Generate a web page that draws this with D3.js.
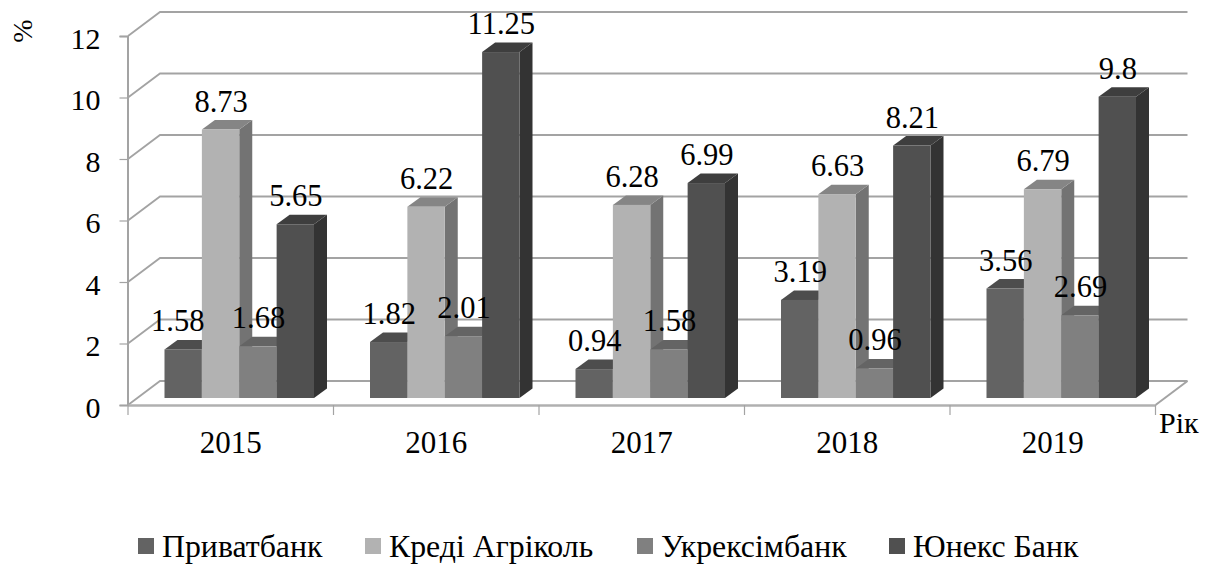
<!DOCTYPE html>
<html><head><meta charset="utf-8">
<script src="https://cdn.jsdelivr.net/npm/d3@7"></script>
<style>
html,body{margin:0;padding:0;background:#fff;overflow:hidden}
svg text{fill:#000}
</style></head><body><svg id="c" width="1212" height="566"></svg>
<script>
const years = ["2015","2016","2017","2018","2019"];
const seriesNames = ["Приватбанк","Креді Агріколь","Укрексімбанк","Юнекс Банк"];
const privat = [1.58,1.82,0.94,3.19,3.56];
const credit = [8.73,6.22,6.28,6.63,6.79];
const ukrexim = [1.68,2.01,1.58,0.96,2.69];
const unex = [5.65,11.25,6.99,8.21,9.8];
const yTicks = [0,2,4,6,8,10,12];
const seriesValues = [privat,credit,ukrexim,unex];
const frontColors = ["#636363","#b2b2b2","#808080","#505050"];
const topColors = ["#4d4d4d","#858585","#646464","#3e3e3e"];
const sideColors = ["#484848","#737373","#5c5c5c","#333333"];
const swatchX = [138,365,637,889];

const svg = d3.select("#c");
const grid = "#a3a3a3";
const y = d3.scaleLinear().domain([0,12]).range([405,36]);
const x0 = d3.scaleBand().domain(years).range([128,1155.5]);
const x1 = d3.scaleBand().domain(seriesNames).range([36.5,186]);
const wallDx = 32, wallDy = 24, barDx = 13, barDy = 9.5, floorLift = 7;

// walls
const wall = svg.append("g").attr("fill","none").attr("stroke",grid).attr("stroke-width",2);
yTicks.forEach(t=>{
  wall.append("path").attr("stroke-width", 1.8)
    .attr("d",`M${x0.range()[0]},${y(t)}L${x0.range()[0]+wallDx},${y(t)-wallDy}H${x0.range()[1]+wallDx}`);
});
wall.append("path").attr("d",`M${x0.range()[1]},${y(0)}L${x0.range()[1]+wallDx},${y(0)-wallDy}`);

// axes
const axL = svg.append("g").attr("transform","translate(127.5,0)")
  .call(d3.axisLeft(y).tickValues(yTicks).tickSize(8).tickPadding(19).tickFormat(d3.format("d")));
axL.select(".domain").attr("stroke",grid).attr("stroke-width",2);
axL.selectAll("line").attr("stroke",grid).attr("stroke-width",1.2);
axL.selectAll("text").style("font-size","30px").attr("dy",null).attr("y",12);

const axB = svg.append("g").attr("transform",`translate(0,${y(0)})`)
  .call(d3.axisBottom(x0).tickSize(0).tickPadding(0));
axB.select(".domain").attr("stroke","#b0b0b0").attr("stroke-width",2.4);
axB.selectAll("text").style("font-size","31px").attr("dy",null).attr("y",48);
const boundaries = years.map(d=>x0(d)).concat([x0.range()[1]]);
svg.append("g").selectAll("line").data(boundaries).join("line")
  .attr("x1",d=>d).attr("x2",d=>d).attr("y1",y(0)).attr("y2",y(0)+10)
  .attr("stroke",grid).attr("stroke-width",1.2);

// bars, left to right
years.forEach((yr,i)=>{
  seriesNames.forEach((s,j)=>{
    const v = seriesValues[j][i];
    const xa = x0(yr)+x1(s), w = x1.bandwidth();
    const t = y(v)-floorLift, b = y(0)-floorLift;
    const g = svg.append("g");
    g.append("path").attr("fill",sideColors[j])
      .attr("d",`M${xa+w},${t}l${barDx},${-barDy}V${b-barDy}l${-barDx},${barDy}Z`);
    g.append("path").attr("fill",topColors[j])
      .attr("d",`M${xa},${t}l${barDx},${-barDy}h${w}l${-barDx},${barDy}Z`);
    g.append("rect").attr("x",xa).attr("y",t).attr("width",w).attr("height",b-t).attr("fill",frontColors[j]);
  });
});

// labels on top (the first one sits further left in the reference)
years.forEach((yr,i)=>{
  seriesNames.forEach((s,j)=>{
    const v = seriesValues[j][i];
    const nudge = (i===0 && j===0) ? -6 : 0;
    svg.append("text").attr("text-anchor","middle")
      .attr("x",x0(yr)+x1(s)+x1.bandwidth()/2+0.5+nudge)
      .attr("y",y(v)-floorLift-18)
      .style("font-size","30.5px").text(String(v));
  });
});

// axis titles
svg.append("text").attr("transform","translate(32,31) rotate(-90)").attr("text-anchor","middle")
  .style("font-size","28px").text("%");
svg.append("text").attr("x",1159).attr("y",433).style("font-size","30px").text("Рік");

// legend
seriesNames.forEach((s,j)=>{
  svg.append("rect").attr("x",swatchX[j]).attr("y",538).attr("width",16).attr("height",16).attr("fill",frontColors[j]);
  svg.append("text").attr("x",swatchX[j]+24).attr("y",557).style("font-size","31.8px").text(s);
});

svg.selectAll("text").attr("font-family",null).style("font-family",'"Liberation Serif"').style("fill","#000");
</script></body></html>
